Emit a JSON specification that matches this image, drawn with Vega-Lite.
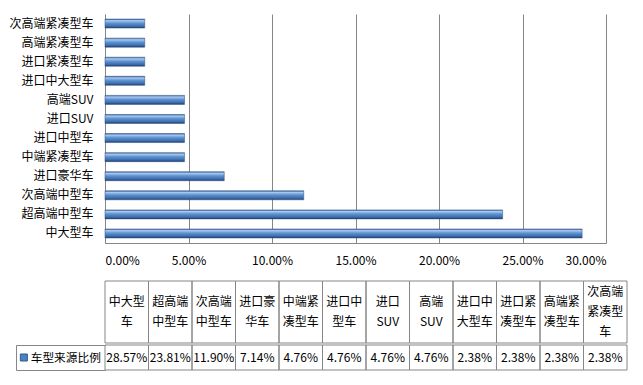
{
  "$schema": "https://vega.github.io/schema/vega-lite/v6.json",
  "background": "white",
  "autosize": {"type": "pad"},
  "padding": {"left": 8, "top": 14, "right": 10, "bottom": 10},
  "spacing": 14,
  "resolve": {"scale": {"x": "independent", "color": "independent"}, "legend": {"color": "independent"}},
  "config": {
    "font": "Noto Sans CJK SC",
    "view": {"stroke": null},
    "axis": {"labelFont": "Noto Sans CJK SC", "labelColor": "#000000", "labelFontSize": 12},
    "legend": {"labelFont": "Noto Sans CJK SC"}
  },
  "datasets": {
    "cars": [
      {"type": "中大型车", "label": ["中大型", "车"], "value": 0.2857, "series": "车型来源比例"},
      {"type": "超高端中型车", "label": ["超高端", "中型车"], "value": 0.2381, "series": "车型来源比例"},
      {"type": "次高端中型车", "label": ["次高端", "中型车"], "value": 0.119, "series": "车型来源比例"},
      {"type": "进口豪华车", "label": ["进口豪", "华车"], "value": 0.0714, "series": "车型来源比例"},
      {"type": "中端紧凑型车", "label": ["中端紧", "凑型车"], "value": 0.0476, "series": "车型来源比例"},
      {"type": "进口中型车", "label": ["进口中", "型车"], "value": 0.0476, "series": "车型来源比例"},
      {"type": "进口SUV", "label": ["进口", "SUV"], "value": 0.0476, "series": "车型来源比例"},
      {"type": "高端SUV", "label": ["高端", "SUV"], "value": 0.0476, "series": "车型来源比例"},
      {"type": "进口中大型车", "label": ["进口中", "大型车"], "value": 0.0238, "series": "车型来源比例"},
      {"type": "进口紧凑型车", "label": ["进口紧", "凑型车"], "value": 0.0238, "series": "车型来源比例"},
      {"type": "高端紧凑型车", "label": ["高端紧", "凑型车"], "value": 0.0238, "series": "车型来源比例"},
      {"type": "次高端紧凑型车", "label": ["次高端", "紧凑型", "车"], "value": 0.0238, "series": "车型来源比例"}
    ]
  },
  "vconcat": [
    {
      "width": 501,
      "height": 229,
      "data": {"name": "cars"},
      "mark": {
        "type": "bar",
        "size": 9,
        "fill": {
          "gradient": "linear", "x1": 0, "y1": 0, "x2": 0, "y2": 1,
          "stops": [
            {"offset": 0, "color": "#35649c"},
            {"offset": 0.18, "color": "#a9c8ef"},
            {"offset": 0.45, "color": "#5f93d3"},
            {"offset": 0.8, "color": "#3d6dac"},
            {"offset": 1, "color": "#1f3f6e"}
          ]
        },
        "stroke": "#2c4f7c",
        "strokeWidth": 0.5
      },
      "encoding": {
        "y": {
          "field": "type", "type": "nominal",
          "sort": ["次高端紧凑型车", "高端紧凑型车", "进口紧凑型车", "进口中大型车", "高端SUV", "进口SUV", "进口中型车", "中端紧凑型车", "进口豪华车", "次高端中型车", "超高端中型车", "中大型车"],
          "scale": {"paddingInner": 0, "paddingOuter": 0},
          "axis": {"title": null, "ticks": false, "domainColor": "#868686", "labelPadding": 12}
        },
        "x": {
          "field": "value", "type": "quantitative",
          "scale": {"domain": [0, 0.3], "nice": false},
          "axis": {"title": null, "format": ".2%", "values": [0, 0.05, 0.1, 0.15, 0.2, 0.25, 0.3], "grid": true, "gridColor": "#868686", "ticks": false, "domainColor": "#868686", "labelPadding": 12}
        }
      }
    },
    {
      "spacing": 0,
      "resolve": {"scale": {"color": "independent", "y": "independent"}, "legend": {"color": "independent"}},
      "vconcat": [
        {
          "width": 522,
          "height": 62,
          "data": {"name": "cars"},
          "transform": [{"calculate": "length(datum.label)", "as": "nlines"}],
          "encoding": {
            "x": {
              "field": "type", "type": "nominal",
              "sort": ["中大型车", "超高端中型车", "次高端中型车", "进口豪华车", "中端紧凑型车", "进口中型车", "进口SUV", "高端SUV", "进口中大型车", "进口紧凑型车", "高端紧凑型车", "次高端紧凑型车"],
              "scale": {"paddingInner": 0, "paddingOuter": 0},
              "axis": null
            }
          },
          "layer": [
            {"mark": {"type": "rect", "fill": "transparent", "stroke": "#868686", "strokeWidth": 1}},
            {"mark": {"type": "text", "fontSize": 12, "lineHeight": 20, "baseline": "middle", "color": "#000000"},
             "encoding": {
               "text": {"field": "label", "type": "nominal"},
               "y": {"field": "nlines", "type": "quantitative", "scale": {"domain": [-2.1, 4.1], "nice": false, "zero": false}, "axis": null}
             }}
          ]
        },
        {
          "width": 522,
          "height": 25,
          "data": {"name": "cars"},
          "encoding": {
            "x": {
              "field": "type", "type": "nominal",
              "sort": ["中大型车", "超高端中型车", "次高端中型车", "进口豪华车", "中端紧凑型车", "进口中型车", "进口SUV", "高端SUV", "进口中大型车", "进口紧凑型车", "高端紧凑型车", "次高端紧凑型车"],
              "scale": {"paddingInner": 0, "paddingOuter": 0},
              "axis": null
            },
            "y": {
              "field": "series", "type": "nominal",
              "scale": {"paddingInner": 0, "paddingOuter": 0},
              "axis": {"title": null, "labels": false, "offset": 89, "domain": true, "domainColor": "#868686", "ticks": true, "tickBand": "extent", "tickSize": -89, "tickColor": "#868686"}
            }
          },
          "layer": [
            {"mark": {"type": "rect", "fill": "transparent", "stroke": "#868686", "strokeWidth": 1}},
            {"mark": {"type": "point", "shape": "square", "filled": true, "opacity": 0},
             "encoding": {
               "color": {
                 "field": "series", "type": "nominal",
                 "scale": {"range": ["#4F81BD"]},
                 "legend": {
                   "orient": "none", "legendX": -90, "legendY": 0, "title": null,
                   "symbolType": "square", "symbolSize": 49, "symbolOpacity": 1,
                   "symbolStrokeColor": "#2c5a8f", "symbolStrokeWidth": 1,
                   "padding": 3, "labelFontSize": 11.7, "labelOffset": 1, "labelColor": "#000000",
                   "clipHeight": 19
                 }
               }
             }},
            {"mark": {"type": "text", "fontSize": 12, "baseline": "middle", "color": "#000000"},
             "encoding": {"text": {"field": "value", "type": "quantitative", "format": ".2%"}}}
          ]
        }
      ]
    }
  ]
}
